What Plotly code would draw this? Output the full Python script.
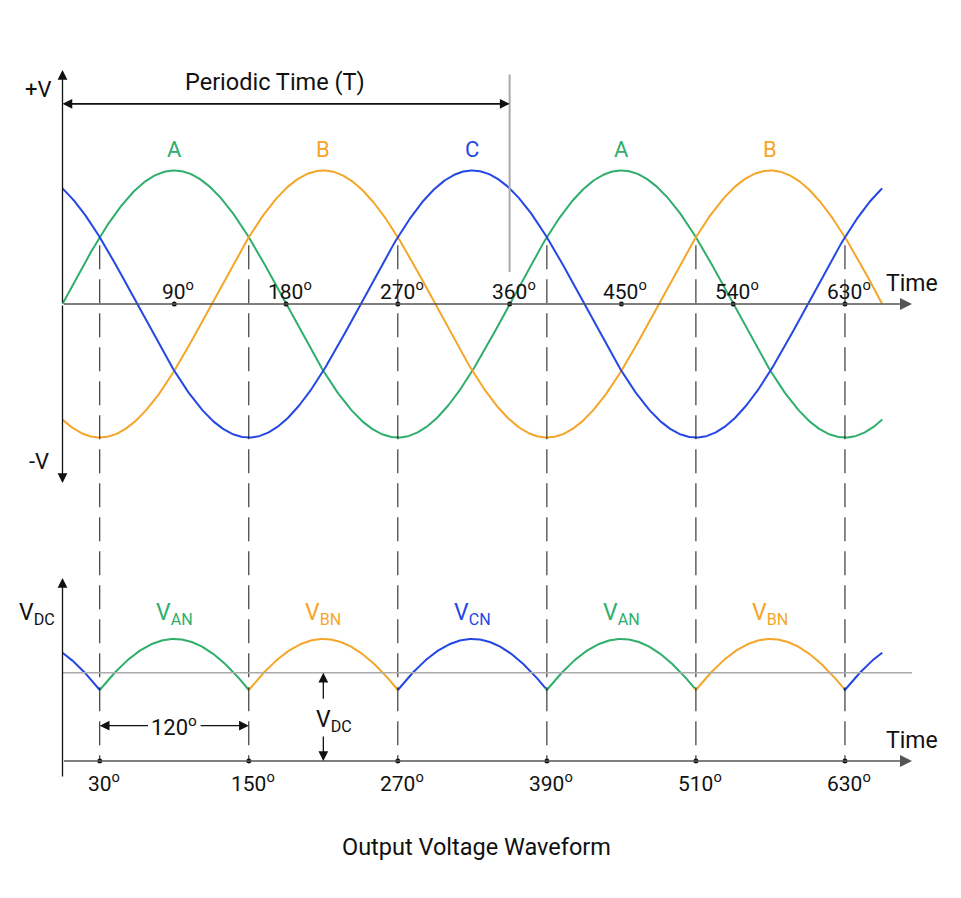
import numpy as np
import plotly.graph_objects as go

# --- data -------------------------------------------------------------
phase_names = ["A", "B", "C"]
phase_shift_deg = [0, 120, 240]
phase_colors = ["#2fae6c", "#f5a629", "#2447e4"]
end_deg = 660

peak_label_deg = [90, 210, 330, 450, 570]
peak_label_text = ["A", "B", "C", "A", "B"]
peak_label_phase = [0, 1, 2, 0, 1]

top_tick_deg = [90, 180, 270, 360, 450, 540, 630]
bottom_tick_deg = [30, 150, 270, 390, 510, 630]

dc_label_deg = [90, 210, 330, 450, 570]
dc_label_text = ["V<sub>AN</sub>", "V<sub>BN</sub>", "V<sub>CN</sub>", "V<sub>AN</sub>", "V<sub>BN</sub>"]
dc_label_phase = [0, 1, 2, 0, 1]

vdc_level = 0.67      # average DC level line
period_deg = 360

# --- geometry (pixels) ------------------------------------------------
W, H = 945, 882          # page body has an 8px margin
ORIGIN_X = 62.5 - 8
PX_PER_DEG = 1.242
TOP_ZERO_Y, TOP_AMP = 304 - 8, 133.5
BOT_ZERO_Y, BOT_AMP = 741 - 8, 102.0

x_range = [-ORIGIN_X / PX_PER_DEG, (W - ORIGIN_X) / PX_PER_DEG]
y_range = [(TOP_ZERO_Y - H) / TOP_AMP, TOP_ZERO_Y / TOP_AMP]
y2_range = [(BOT_ZERO_Y - H) / BOT_AMP, BOT_ZERO_Y / BOT_AMP]


def bot_to_top(v):
    # convert a y2 value to y units (same pixel row)
    return (TOP_ZERO_Y - (BOT_ZERO_Y - v * BOT_AMP)) / TOP_AMP


bot_axis = -0.196
axis_tip_deg = 684
FONT = "Roboto"
TXT = "#111111"

theta = np.arange(0, end_deg + 1, 1.0)
waves = [np.sin(np.radians(theta - s)) for s in phase_shift_deg]

fig = go.Figure()

# top: three phase sine waves
for name, w, c in zip(phase_names, waves, phase_colors):
    fig.add_trace(go.Scatter(x=theta, y=w, mode="lines", name=name,
                             line=dict(color=c, width=2), yaxis="y",
                             hoverinfo="skip"))

# bottom: rectified envelope, coloured by the conducting phase
stack = np.vstack(waves)
env = stack.max(axis=0)
idx = stack.argmax(axis=0)
start = 0
for i in range(1, len(theta) + 1):
    if i == len(theta) or idx[i] != idx[start]:
        a = max(start - 1, 0)
        fig.add_trace(go.Scatter(x=theta[a:i], y=env[a:i], mode="lines",
                                 line=dict(color=phase_colors[idx[start]], width=2),
                                 yaxis="y2", hoverinfo="skip", showlegend=False))
        start = i

shapes = []
# dashed commutation lines
for d in bottom_tick_deg:
    shapes.append(dict(type="line", xref="x", yref="y", x0=d, x1=d,
                       y0=0.44, y1=bot_to_top(bot_axis),
                       line=dict(color="#111111", width=1, dash="24px,10px")))
# grey period marker
shapes.append(dict(type="line", xref="x", yref="y", x0=period_deg, x1=period_deg,
                   y0=1.72, y1=0.24, line=dict(color="#aaaaaa", width=2)))
# grey DC level line
shapes.append(dict(type="line", xref="x", yref="y2", x0=0, x1=axis_tip_deg,
                   y0=vdc_level, y1=vdc_level, line=dict(color="#aaaaaa", width=1.5)))

ann = []


def arrow(x, y, ax, ay, yr="y", color="#111111", width=1.3):
    ann.append(dict(x=x, y=y, ax=ax, ay=ay, xref="x", yref=yr, axref="x", ayref=yr,
                    text="", showarrow=True, arrowhead=2, arrowsize=1.5,
                    arrowwidth=width, arrowcolor=color))


def label(x, y, text, yr="y", color=TXT, size=22, xshift=0, yshift=0):
    ann.append(dict(x=x, y=y, xref="x", yref=yr, text=text, showarrow=False,
                    font=dict(family=FONT, size=size, color=color),
                    xanchor="center", yanchor="middle", xshift=xshift, yshift=yshift))


# top axes
arrow(0, 1.753, 0, 0)
arrow(0, -1.341, 0, 0)
arrow(axis_tip_deg, 0, 0, 0, color="#555555", width=1.6)
# bottom axes
arrow(0, 1.598, 0, -0.363, yr="y2")
arrow(axis_tip_deg, bot_axis, 0, bot_axis, yr="y2", color="#555555", width=1.6)
# periodic time arrow
arrow(period_deg, 1.50, 0, 1.50)
arrow(0, 1.50, period_deg, 1.50)
# 120 degree arrow
arrow(bottom_tick_deg[0], 0.15, 70, 0.15, yr="y2")
arrow(bottom_tick_deg[1], 0.15, 110, 0.15, yr="y2")
# VDC arrow
arrow(210, vdc_level, 210, 0.40, yr="y2")
arrow(210, bot_axis, 210, 0.06, yr="y2")

# tick dots
fig.add_trace(go.Scatter(x=top_tick_deg, y=[0] * len(top_tick_deg), mode="markers",
                         marker=dict(color="#111111", size=5), yaxis="y",
                         hoverinfo="skip", showlegend=False))
fig.add_trace(go.Scatter(x=bottom_tick_deg, y=[bot_axis] * len(bottom_tick_deg),
                         mode="markers", marker=dict(color="#111111", size=5),
                         yaxis="y2", hoverinfo="skip", showlegend=False))

for d in top_tick_deg:
    label(d, 0, f"{d}<sup>o</sup>", size=21, xshift=4, yshift=14)
for d in bottom_tick_deg:
    label(d, bot_axis, f"{d}<sup>o</sup>", yr="y2", size=21, xshift=4, yshift=-21)

for d, t, p in zip(peak_label_deg, peak_label_text, peak_label_phase):
    label(d, 1.16, t, color=phase_colors[p])
for d, t, p in zip(dc_label_deg, dc_label_text, dc_label_phase):
    label(d, 1.25, t, yr="y2", size=23, color=phase_colors[p])

label(axis_tip_deg, 0, "Time", size=23, yshift=21)
label(axis_tip_deg, bot_axis, "Time", yr="y2", size=23, yshift=20)
label(0, 1.61, "+V", xshift=-24)
label(0, -1.18, "-V", xshift=-24)
label(0, 1.25, "V<sub>DC</sub>", yr="y2", size=23, xshift=-26)
label(171, 1.66, "Periodic Time (T)", size=23.5)
label(90, 0.15, "120<sup>o</sup>", yr="y2")
label(210, 0.20, "V<sub>DC</sub>", yr="y2", size=23, xshift=11)
label(333, -1.04, "Output Voltage Waveform", yr="y2", size=23.5)

fig.update_layout(
    width=W, height=H, margin=dict(l=0, r=0, t=0, b=0),
    paper_bgcolor="white", plot_bgcolor="white", showlegend=False,
    xaxis=dict(range=x_range, visible=False, fixedrange=True),
    yaxis=dict(range=y_range, visible=False, fixedrange=True),
    yaxis2=dict(range=y2_range, visible=False, overlaying="y", fixedrange=True),
    shapes=shapes, annotations=ann,
)

fig.write_html("out.html")
